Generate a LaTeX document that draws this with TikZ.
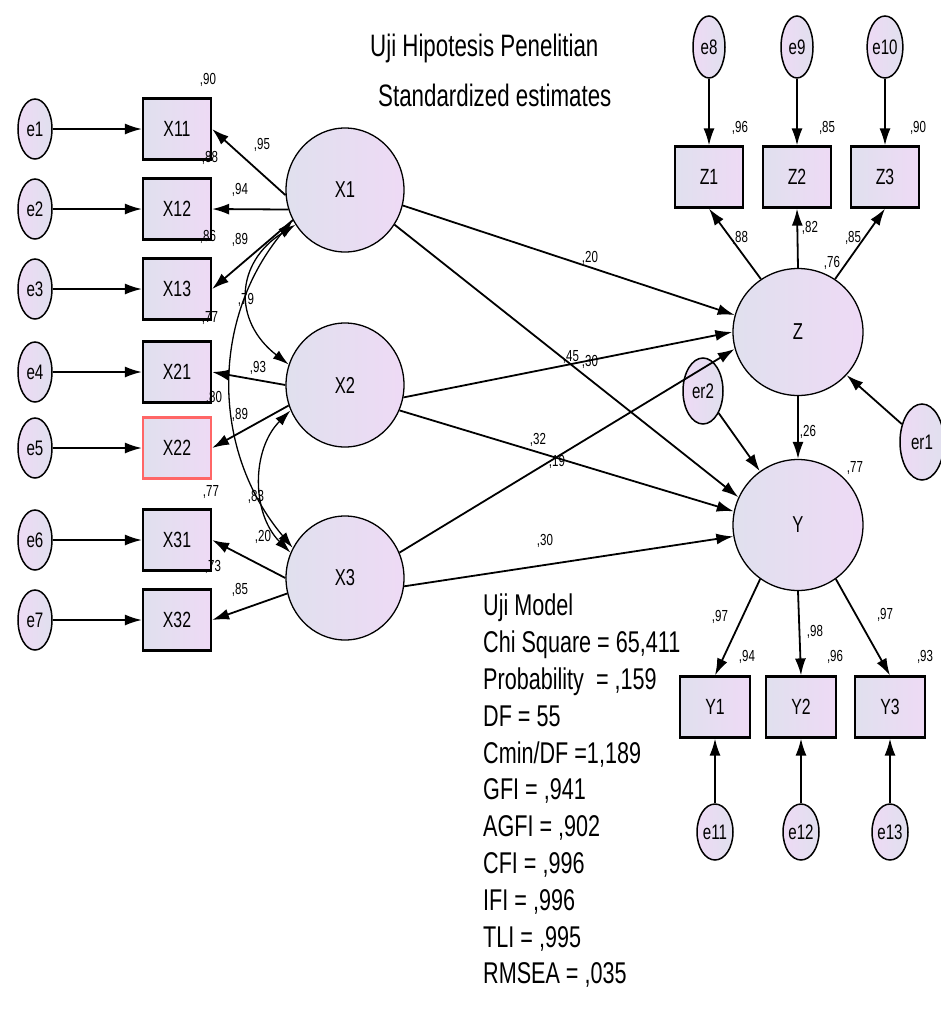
\documentclass[tikz,border=0pt]{standalone}
\usepackage{fontspec}
\setmainfont{Liberation Sans}[FakeStretch=0.72]
\usetikzlibrary{shapes.geometric,arrows.meta}
\definecolor{fillL}{RGB}{224,224,238}
\definecolor{fillR}{RGB}{238,218,245}

\begin{document}
\begin{tikzpicture}[x=1pt,y=-1pt]
  \tikzset{obs/.style = {draw,line width=2.2pt,minimum width=68pt,minimum height=61pt,inner sep=0pt,left color=fillL,right color=fillR,font=\fontsize{22}{24}\selectfont}}
  \tikzset{lat/.style = {draw,line width=1.3pt,ellipse,minimum width=118pt,minimum height=124pt,inner sep=0pt,left color=fillL,right color=fillR,font=\fontsize{23}{25}\selectfont}}
  \tikzset{err/.style = {draw,line width=1.5pt,ellipse,minimum width=34pt,minimum height=60pt,inner sep=0pt,left color=fillR,right color=fillL,font=\fontsize{21}{23}\selectfont}}
  \tikzset{est/.style = {inner sep=0pt,font=\fontsize{16}{18}\selectfont}}
  \tikzset{reg/.style = {-{Latex[length=17pt,width=11pt]},line width=1.8pt}}
  \tikzset{cov/.style = {{Latex[length=16pt,width=10pt]}-{Latex[length=16pt,width=10pt]},line width=1.3pt}}

\useasboundingbox (0,0) rectangle (941,1029);

% exogenous indicators
\node[obs] (X11) at (177,129) {X11};
\node[obs] (X12) at (177,209) {X12};
\node[obs] (X13) at (177,289) {X13};
\node[obs] (X21) at (177,372) {X21};
\node[obs,draw=red!60] (X22) at (177,448) {X22};
\node[obs] (X31) at (177,540) {X31};
\node[obs] (X32) at (177,620) {X32};

\node[err] (e1) at (35,129) {e1};
\node[err] (e2) at (35,209) {e2};
\node[err] (e3) at (35,289) {e3};
\node[err] (e4) at (35,372) {e4};
\node[err] (e5) at (35,448) {e5};
\node[err] (e6) at (35,540) {e6};
\node[err] (e7) at (35,620) {e7};

% latent variables
\node[lat] (X1) at (345,190) {X1};
\node[lat] (X2) at (345,385) {X2};
\node[lat] (X3) at (345,578) {X3};
\node[lat,minimum width=130pt,minimum height=127pt] (Z) at (798,332) {Z};
\node[lat,minimum width=130pt,minimum height=131pt] (Y) at (798,525) {Y};

% Z and Y indicators
\node[obs] (Z1) at (709,177) {Z1};
\node[obs] (Z2) at (797,177) {Z2};
\node[obs] (Z3) at (885,177) {Z3};
\node[err,minimum width=32pt,minimum height=62pt] (e8) at (709,47) {e8};
\node[err,minimum width=32pt,minimum height=62pt] (e9) at (797,47) {e9};
\node[err,minimum width=32pt,minimum height=62pt] (e10) at (885,47) {e10};

\node[obs,minimum width=70pt] (Y1) at (715,707) {Y1};
\node[obs,minimum width=70pt] (Y2) at (801,707) {Y2};
\node[obs,minimum width=70pt] (Y3) at (890,707) {Y3};
\node[err,minimum width=36pt,minimum height=56pt] (e11) at (715,832) {e11};
\node[err,minimum width=36pt,minimum height=56pt] (e12) at (801,832) {e12};
\node[err,minimum width=36pt,minimum height=56pt] (e13) at (890,832) {e13};

\node[err,minimum width=44pt,minimum height=76pt] (er1) at (922,442) {er1};
\node[err,minimum width=40pt,minimum height=66pt] (er2) at (703,391) {er2};

% error terms
\path[reg] (e1) edge (X11);
\path[reg] (e2) edge (X12);
\path[reg] (e3) edge (X13);
\path[reg] (e4) edge (X21);
\path[reg] (e5) edge (X22);
\path[reg] (e6) edge (X31);
\path[reg] (e7) edge (X32);
\path[reg] (e8) edge (Z1);
\path[reg] (e9) edge (Z2);
\path[reg] (e10) edge (Z3);
\path[reg] (e11) edge (Y1);
\path[reg] (e12) edge (Y2);
\path[reg] (e13) edge (Y3);
\path[reg] (er1) edge (Z);
\path[reg] (er2) edge (Y);

% loadings
\path[reg] (X1.185) edge (X11.east);
\path[reg] (X1.199) edge (X12.east);
\path[reg] (X1.210) edge (X13.east);
\path[reg] (X2.180) edge (X21.east);
\path[reg] (X2.200) edge (X22.east);
\path[reg] (X3.180) edge (X31.east);
\path[reg] (X3.195) edge (X32.east);
\path[reg] (Z.125) edge (Z1.south);
\path[reg] (Z.north) edge (Z2.south);
\path[reg] (Z.55) edge (Z3.south);
\path[reg] (Y.235) edge (Y1.north);
\path[reg] (Y.south) edge (Y2.north);
\path[reg] (Y.305) edge (Y3.north);

% structural paths
\path[reg] (X1.-15) edge (Z.165);
\path[reg] (X1.-35) edge (Y.155);
\path[reg] (X2.-12) edge (Z.180);
\path[reg] (X2.-25) edge (Y.168);
\path[reg] (X3.25) edge (Z.195);
\path[reg] (X3.-8) edge (Y.190);
\path[reg] (Z) edge (Y);

% covariances
\path[cov] (X1.215) edge[bend right=55,looseness=1.3] (X2.160);
\path[cov] (X1.210) edge[bend right=40] (X3.150);
\path[cov] (X2.205) edge[bend right=45] (X3.155);

% estimates
\node[est] (r11) at (208,80) {,90};
\node[est] (r12) at (210,158) {,88};
\node[est] (r13) at (208,237) {,86};
\node[est] (r21) at (210,318) {,77};
\node[est] (r22) at (214,398) {,80};
\node[est] (r31) at (211,492) {,77};
\node[est] (r32) at (213,567) {,73};
\node[est] (l11) at (262,145) {,95};
\node[est] (l12) at (240,190) {,94};
\node[est] (l13) at (240,240) {,89};
\node[est] (l21) at (258,368) {,93};
\node[est] (l22) at (240,415) {,89};
\node[est] (l31) at (263,537) {,20};
\node[est] (l32) at (240,590) {,85};
\node[est] (c12) at (246,300) {,79};
\node[est] (c23) at (256,497) {,83};

\node[est] (rz1) at (740,128) {,96};
\node[est] (rz2) at (827,128) {,85};
\node[est] (rz3) at (918,128) {,90};
\node[est] (lz1) at (740,238) {,88};
\node[est] (lz2) at (810,228) {,82};
\node[est] (lz3) at (853,238) {,85};
\node[est] (rz) at (832,263) {,76};
\node[est] (ry) at (855,468) {,77};
\node[est] (lzy) at (808,432) {,26};
\node[est] (ly1) at (720,617) {,97};
\node[est] (ly2) at (815,632) {,98};
\node[est] (ly3) at (885,615) {,97};
\node[est] (ry1) at (747,657) {,94};
\node[est] (ry2) at (835,657) {,96};
\node[est] (ry3) at (925,657) {,93};

\node[est] (b1z) at (590,258) {,20};
\node[est] (b1y) at (571,357) {,45};
\node[est] (b2z) at (590,362) {,30};
\node[est] (b3z) at (538,440) {,32};
\node[est] (b2y) at (557,462) {,19};
\node[est] (b3y) at (545,541) {,30};

% titles and fit
\node[anchor=base west,inner sep=0pt,font=\fontsize{31}{36}\selectfont] (title1) at (370,56) {Uji Hipotesis Penelitian};
\node[anchor=base west,inner sep=0pt,font=\fontsize{31}{36}\selectfont] (title2) at (378,106) {Standardized estimates};
\node[anchor=north west,align=left,inner sep=0pt,font=\fontsize{30}{36.8}\selectfont] (fit) at (483,594) {Uji Model\\Chi Square = 65,411\\Probability\ \ = ,159\\DF = 55\\Cmin/DF =1,189\\GFI = ,941\\AGFI = ,902\\CFI = ,996\\IFI = ,996\\TLI = ,995\\RMSEA = ,035};

\end{tikzpicture}
\end{document}
